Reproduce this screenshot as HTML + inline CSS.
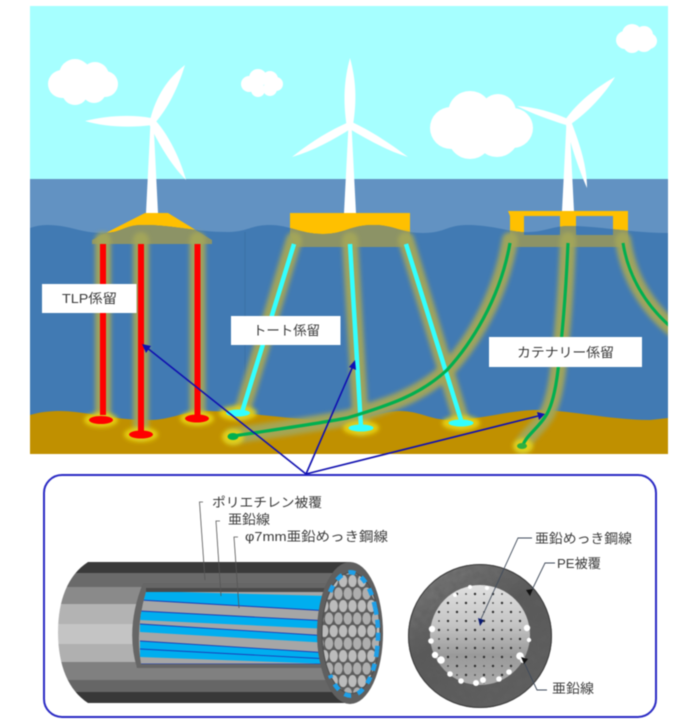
<!DOCTYPE html>
<html lang="ja">
<head>
<meta charset="utf-8">
<title>浮体式洋上風力 係留方式</title>
<style>
html,body{margin:0;padding:0;background:#fff}
svg{display:block;filter:blur(.4px)}
text{font-family:"Liberation Sans","Noto Sans CJK JP",sans-serif;fill:#3a3a3a}
</style>
</head>
<body>
<svg width="687" height="720" viewBox="0 0 687 720" xmlns="http://www.w3.org/2000/svg">
<defs>
<path id="sea" d="M30,228 Q38,225 47,225 C70,225 80,233 103,233 C123,233 123,225 143,225 C175,225 195,232 227,232 C248,232 250,225 270,225 C290,225 300,234 323,234 C345,234 350,225 373,225 C395,225 400,233 423,233 C445,233 447,225 467,225 C495,225 510,233 530,232 C548,231 552,226 570,226 C600,226 630,233 668,233 V454 H30 Z"/>
<clipPath id="seaClip"><use href="#sea"/></clipPath>
<clipPath id="sceneClip"><rect x="30" y="6" width="638" height="448"/></clipPath>
<filter id="g3" x="-40%" y="-40%" width="180%" height="180%"><feGaussianBlur stdDeviation="2.2"/></filter>
<filter id="noise" x="0" y="0" width="100%" height="100%">
<feTurbulence type="fractalNoise" baseFrequency=".14" numOctaves="2" seed="4" result="n"/>
<feColorMatrix in="n" type="matrix" values="0 0 0 0 .1  0 0 0 0 .1  0 0 0 0 .1  0 0 0 .9 -.3" result="a"/>
<feComposite in="a" in2="SourceGraphic" operator="in" result="b"/>
<feMerge><feMergeNode in="SourceGraphic"/><feMergeNode in="b"/></feMerge>
</filter>
<path id="body" d="M88,562 C68,575 58,600 58,632 C58,665 68,690 88,703 H350 A33,71 0 0 0 350,562 Z"/>
<clipPath id="bodyClip"><use href="#body"/></clipPath>
<clipPath id="innerClip"><path d="M146,592 H330 V664 H141 Q135,628 146,592 Z"/></clipPath>
<clipPath id="coreClip"><circle cx="480" cy="635" r="49"/></clipPath>
<pattern id="hex" width="9.400" height="25" patternUnits="userSpaceOnUse">
<rect width="9.400" height="25" fill="#5c5c5c"/>
<ellipse cx="4.700" cy="6" rx="4.200" ry="6.100" fill="#bcbcbc"/>
<ellipse cx="0" cy="18.500" rx="4.200" ry="6.100" fill="#aeaeae"/>
<ellipse cx="9.400" cy="18.500" rx="4.200" ry="6.100" fill="#aeaeae"/>
</pattern>
<pattern id="dots" width="18" height="18" patternUnits="userSpaceOnUse" x="471" y="626">
<circle cx="4" cy="4" r="1.200" fill="#2e2e2e"/>
<circle cx="13" cy="13" r="1.200" fill="#2e2e2e"/>
<circle cx="13" cy="4" r=".9" fill="#444"/>
<circle cx="4" cy="13" r=".9" fill="#444"/>
</pattern>
<linearGradient id="sil" x1="0" y1="0" x2="0" y2="1">
<stop offset="0" stop-color="#e0e0e0"/><stop offset=".4" stop-color="#c4c4c4"/><stop offset=".7" stop-color="#9a9a9a"/><stop offset="1" stop-color="#aaa"/>
</linearGradient>
<linearGradient id="rim" x1="0" y1="0" x2=".6" y2="1">
<stop offset="0" stop-color="#808080"/><stop offset=".5" stop-color="#5a5a5a"/><stop offset="1" stop-color="#606060"/>
</linearGradient>
</defs>

<rect width="687" height="720" fill="#fff"/>

<g clip-path="url(#sceneClip)">
<rect x="30" y="6" width="638" height="174" fill="#a6ffff"/>
<rect x="30" y="179" width="638" height="100" fill="#6292c2"/>

<!-- turbines -->
<g fill="#fff">
<path d="M150.500,122 H153.500 L158,213 H146 Z"/>
<path d="M150,120 C156,96 168,78 185,65 C178,88 168,108 155,123 Z"/>
<path d="M151,118 C130,114 105,116 85,121 C105,127 130,128 152,125 Z"/>
<path d="M149,124 C158,142 170,164 186,180 C180,158 168,134 155,120 Z"/>
<circle cx="152" cy="122" r="3"/>

<path d="M348.500,125 H351.500 L356,213 H344 Z"/>
<path d="M346.500,125 C343,100 344,80 350,58 C356,80 357,100 353,125 Z"/>
<path d="M349,122 C328,131 308,144 292,157 C313,151 333,140 352,128 Z"/>
<path d="M348,128 C368,140 388,151 408,157 C391,144 371,131 352,122 Z"/>
<circle cx="350" cy="125" r="3"/>

<path d="M566.500,122 H569.500 L574,211 H562 Z"/>
<path d="M565,120 C577,103 595,88 615,77 C605,94 588,112 571,124 Z"/>
<path d="M568,119 C552,112 535,107 517,106 C533,114 550,120 566,125 Z"/>
<path d="M566,125 C571,146 579,170 587,188 C587,165 579,142 571,121 Z"/>
<circle cx="568" cy="122" r="3"/>
</g>

<!-- clouds -->
<g fill="#fff">
<circle cx="62" cy="84" r="14"/><circle cx="75" cy="75" r="16"/><circle cx="95" cy="76" r="14"/><circle cx="105" cy="84" r="13"/><circle cx="75" cy="92" r="13"/><circle cx="94" cy="91" r="12"/><rect x="62" y="74" width="40" height="24"/>
<circle cx="249" cy="84" r="8"/><circle cx="258" cy="78" r="9"/><circle cx="270" cy="79" r="8"/><circle cx="276" cy="84" r="7"/><circle cx="258" cy="90" r="7"/><circle cx="270" cy="89" r="7"/>
<circle cx="451" cy="128" r="21"/><circle cx="470" cy="113" r="22"/><circle cx="498" cy="112" r="18"/><circle cx="513" cy="128" r="20"/><circle cx="470" cy="137" r="22"/><circle cx="497" cy="135" r="22"/>
<circle cx="625" cy="40" r="9"/><circle cx="632" cy="34" r="10"/><circle cx="644" cy="35" r="9"/><circle cx="649" cy="41" r="8"/><circle cx="632" cy="44" r="9"/><circle cx="644" cy="43" r="9"/>
</g>

<!-- platforms above water -->
<g fill="#ffc000">
<path d="M145,213 H168 L212,240 V244 H92 V240 Z"/>
<rect x="290" y="213" width="120" height="34"/>
<path fill-rule="evenodd" d="M508,211 H628 V247 H510 V216 Z M524,216 V235 H560 V216 Z M576,216 V235 H613 V216 Z"/>
</g>

<!-- front sea -->
<use href="#sea" fill="#417ab3"/>
<line x1="245" y1="232" x2="245" y2="415" stroke="#3a70a6" stroke-width="1"/>

<!-- ground -->
<path d="M30,415 C40,412 50,411 60,411 C85,411 110,420 150,420 C170,420 185,411 205,411 C240,411 300,421 340,421 C365,421 380,411 400,411 C420,411 430,420 450,420 C480,420 510,410 537,410 C570,410 610,420 650,420 L668,418 V454 H30 Z" fill="#c09000"/>

<!-- platforms under water -->
<g clip-path="url(#seaClip)" fill="#8c9366">
<path d="M145,213 H168 L212,240 V244 H92 V240 Z"/>
<path d="M290,213 H410 V240 L403,247 H298 L290,235 Z"/>
<path fill-rule="evenodd" d="M508,211 H628 V247 H510 V216 Z M524,216 V235 H560 V216 Z M576,216 V235 H613 V216 Z"/>
</g>

<!-- glow -->
<g filter="url(#g3)" fill="none" stroke="#a3a558" stroke-opacity=".95" stroke-width="16" stroke-linecap="round">
<path d="M103,240 V415 M141,240 V432 M197.500,240 V415"/>
<path d="M294,240 L242,412 M350,240 L361,427 M406,240 L461,420"/>
<path d="M510,240 C500,300 470,345 447,370 C420,395 390,405 347,418 C310,425 265,431 233,436"/>
<path d="M568,240 C566,290 563,330 558,370 C555,395 550,410 545,417 C538,428 527,435 523,445"/>
<path d="M623,240 C628,275 645,305 672,328"/>
</g>
<g filter="url(#g3)" fill="#ecd810" fill-opacity=".85">
<ellipse cx="101" cy="420" rx="17" ry="7.500"/><ellipse cx="141" cy="434.500" rx="17" ry="7.500"/><ellipse cx="197" cy="418.500" rx="17" ry="7.500"/>
<ellipse cx="238" cy="413" rx="19" ry="7.500"/><ellipse cx="361" cy="428" rx="18" ry="7.500"/><ellipse cx="461" cy="423" rx="19" ry="7.500"/>
<ellipse cx="233" cy="437" rx="11" ry="8"/><ellipse cx="523" cy="446" rx="10" ry="7.500"/>
</g>

<!-- mooring lines -->
<g fill="none" stroke-linecap="butt">
<path d="M103,244 V415 M141,244 V432 M197.500,244 V415" stroke="#ff0000" stroke-width="6"/>
<path d="M294,244 L242,412 M350,244 L361,427 M406,244 L461,420" stroke="#33ffff" stroke-width="4.500"/>
<g stroke="#00b050">
<path d="M510,243 C500,300 470,345 447,370 C420,395 390,405 347,418 C310,425 265,431 233,436" stroke-width="3.200"/>
<path d="M568,243 C566,290 563,330 558,370 C555,395 550,410 545,417 C538,428 527,435 523,445" stroke-width="3.200"/>
<path d="M623,243 C628,275 645,305 672,328" stroke-width="3"/>
</g>
</g>
<g>
<ellipse cx="101" cy="420" rx="12" ry="4" fill="#ff0000"/><ellipse cx="141" cy="434.500" rx="12" ry="4" fill="#ff0000"/><ellipse cx="197" cy="418.500" rx="12" ry="4" fill="#ff0000"/>
<ellipse cx="238" cy="413" rx="12" ry="3.500" fill="#33ffff"/><ellipse cx="361" cy="428" rx="12.500" ry="3.500" fill="#33ffff"/><ellipse cx="461" cy="423" rx="12.500" ry="3.500" fill="#33ffff"/>
<ellipse cx="233" cy="436.500" rx="5.500" ry="3.500" fill="#00b050"/><ellipse cx="522" cy="446" rx="5" ry="3" fill="#30b040"/>
</g>
</g>

<!-- mooring labels -->
<g fill="#fff">
<rect x="42" y="284" width="94.500" height="29"/>
<rect x="231" y="316" width="109.500" height="29"/>
<rect x="489" y="337" width="153" height="30"/>
</g>
<text x="62" y="303" font-size="13" textLength="55" lengthAdjust="spacingAndGlyphs">TLP係留</text>
<text x="253" y="335" font-size="13" textLength="67" lengthAdjust="spacingAndGlyphs">トート係留</text>
<text x="517" y="357" font-size="13" textLength="97" lengthAdjust="spacingAndGlyphs">カテナリー係留</text>

<!-- bottom rounded box -->
<rect x="44" y="475" width="612" height="242" rx="18" ry="18" fill="#fff" stroke="#2a2ac4" stroke-width="2"/>

<!-- cable -->
<g clip-path="url(#bodyClip)">
<rect x="50" y="560" width="340" height="13" fill="#3a3a3a"/>
<rect x="50" y="573" width="340" height="14" fill="#6a6a6a"/>
<rect x="50" y="587" width="340" height="17" fill="#8a8a8a"/>
<rect x="50" y="604" width="340" height="20" fill="#b3b3b3"/>
<rect x="50" y="624" width="340" height="20" fill="#c4c4c4"/>
<rect x="50" y="644" width="340" height="18" fill="#b0b0b0"/>
<rect x="50" y="662" width="340" height="18" fill="#808080"/>
<rect x="50" y="680" width="340" height="12" fill="#666"/>
<rect x="50" y="692" width="340" height="13" fill="#383838"/>
</g>
<path d="M143,583 H335 V668 H137 Q125,628 143,583 Z" fill="#666"/>
<rect x="146" y="588" width="190" height="4" fill="#4a4a4a"/>
<g clip-path="url(#innerClip)">
<rect x="135" y="590" width="200" height="78" fill="#a6a6a6"/>
<path d="M140,591 L330,596 V611 L140,600 Z" fill="#00aeef"/>
<path d="M140,611 L330,621 V629 L140,620 Z" fill="#00aeef"/>
<path d="M140,624 L330,636 V643 L140,632 Z" fill="#00aeef"/>
<path d="M140,641 L330,653 V664 L140,657 Z" fill="#00aeef"/>
<g fill="none" stroke="#1a3fb8" stroke-width=".9">
<path d="M140,600 L330,611"/>
<path d="M140,611 L330,621"/>
<path d="M140,624 L330,636"/>
<path d="M140,641 L330,653"/>
<path d="M140,649 L330,659"/>
<path d="M140,664 H330"/>
</g>
</g>
<ellipse cx="350" cy="633" rx="33" ry="71" fill="#5f5f5f"/>
<ellipse cx="351" cy="633" rx="29.500" ry="61" fill="#4c4c4c"/>
<ellipse cx="351" cy="633" rx="28.500" ry="60" fill="url(#hex)"/>
<g fill="none" stroke="#1e9fe8" stroke-width="4.500" stroke-dasharray="7 7">
<path d="M330,592 A27,58 0 0 1 375,607"/>
<path d="M375,607 A27,58 0 0 1 377,650" stroke-dasharray="8 5"/>
<path d="M377,650 A27,58 0 0 1 330,675"/>
</g>

<!-- cable leaders and labels -->
<g fill="none" stroke="#555" stroke-width=".8">
<path d="M203,502 H199.500 L205,580"/>
<path d="M220,521 H216 L221,596"/>
<path d="M238,537 H234 L239,608"/>
</g>
<text x="212" y="507" font-size="13" textLength="110" lengthAdjust="spacingAndGlyphs">ポリエチレン被覆</text>
<text x="228" y="524" font-size="13" textLength="42" lengthAdjust="spacingAndGlyphs">亜鉛線</text>
<text x="245" y="541" font-size="13" textLength="143" lengthAdjust="spacingAndGlyphs">φ7mm亜鉛めっき鋼線</text>

<!-- cross section -->
<circle cx="480" cy="636" r="72" fill="url(#rim)" filter="url(#noise)"/>
<circle cx="480" cy="636" r="71.500" fill="none" stroke="#3c3c3c" stroke-width="1"/>
<circle cx="480" cy="635" r="50" fill="url(#sil)"/>
<circle cx="480" cy="635" r="49" fill="url(#dots)" clip-path="url(#coreClip)"/>
<g fill="#fff">
<circle cx="432" cy="629" r="3.200"/><circle cx="431" cy="641" r="2.800"/><circle cx="435" cy="655" r="3.200"/><circle cx="441" cy="660" r="3.800"/><circle cx="450" cy="674" r="2.800"/><circle cx="461" cy="681" r="2.800"/>
<circle cx="476" cy="683" r="3"/><circle cx="483" cy="680" r="3"/><circle cx="499" cy="679" r="2.800"/><circle cx="509" cy="672" r="2.800"/><circle cx="520" cy="656" r="3.800"/><circle cx="523" cy="660" r="3"/>
<circle cx="527" cy="628" r="3.200"/><circle cx="529" cy="640" r="2.200"/><circle cx="487" cy="588" r="2"/><circle cx="470" cy="587" r="2"/><circle cx="455" cy="595" r="2"/>
</g>
<g fill="none" stroke="#3f4a5a" stroke-width=".9">
<path d="M532,538 H518 L481,619"/>
<path d="M555,563 H545 L531,592"/>
<path d="M547,690 H537 L523,660"/>
</g>
<path d="M484,620 L480,626 L478,618 Z" fill="#0a1a70"/>
<path d="M533,589 L530,596 L526,590 Z" fill="#111"/>
<path d="M521,657 L524,664 L528,659 Z" fill="#111"/>
<text x="535" y="543" font-size="13" textLength="97" lengthAdjust="spacingAndGlyphs">亜鉛めっき鋼線</text>
<text x="557" y="568" font-size="13" textLength="44" lengthAdjust="spacingAndGlyphs">PE被覆</text>
<text x="552" y="693" font-size="13" textLength="42" lengthAdjust="spacingAndGlyphs">亜鉛線</text>

<!-- blue arrows -->
<g fill="none" stroke="#1010b0" stroke-width="1.600">
<path d="M306,474 L146,347"/>
<path d="M306,474 L353,366"/>
<path d="M306,474 L538,416"/>
</g>
<g fill="#1010b0">
<path d="M142,344 L151,346 L146,353 Z"/>
<path d="M355,360 L356,370 L349,367 Z"/>
<path d="M545,414 L537,412 L539,420 Z"/>
</g>
</svg>
</body>
</html>
